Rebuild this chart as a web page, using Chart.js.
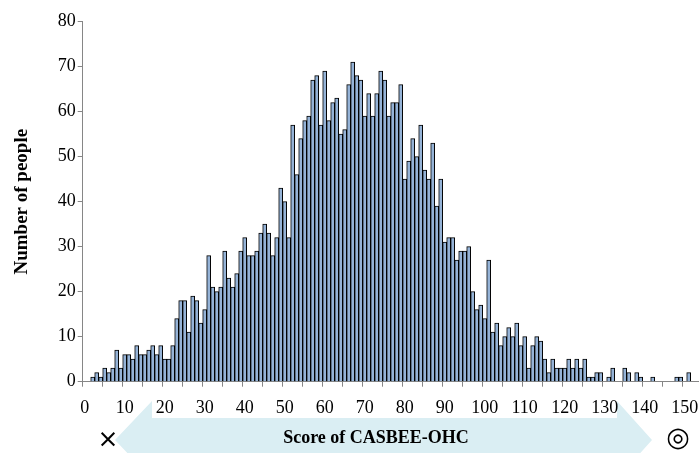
<!DOCTYPE html>
<html>
<head>
<meta charset="utf-8">
<script src="https://cdn.jsdelivr.net/npm/chart.js@4.4.1/dist/chart.umd.min.js"></script>
<style>
  html, body { margin: 0; padding: 0; background: #fff; }
  #wrap { width: 700px; height: 453px; }
</style>
</head>
<body>
<div id="wrap"><canvas id="chart" width="700" height="453"></canvas></div>
<script>
  // score categories (one bar per score point)
  const scores = [
    0, 1, 2, 3, 4, 5, 6, 7, 8, 9,
    10, 11, 12, 13, 14, 15, 16, 17, 18, 19,
    20, 21, 22, 23, 24, 25, 26, 27, 28, 29,
    30, 31, 32, 33, 34, 35, 36, 37, 38, 39,
    40, 41, 42, 43, 44, 45, 46, 47, 48, 49,
    50, 51, 52, 53, 54, 55, 56, 57, 58, 59,
    60, 61, 62, 63, 64, 65, 66, 67, 68, 69,
    70, 71, 72, 73, 74, 75, 76, 77, 78, 79,
    80, 81, 82, 83, 84, 85, 86, 87, 88, 89,
    90, 91, 92, 93, 94, 95, 96, 97, 98, 99,
    100, 101, 102, 103, 104, 105, 106, 107, 108, 109,
    110, 111, 112, 113, 114, 115, 116, 117, 118, 119,
    120, 121, 122, 123, 124, 125, 126, 127, 128, 129,
    130, 131, 132, 133, 134, 135, 136, 137, 138, 139,
    140, 141, 142, 143, 144, 145, 146, 147, 148, 149,
    150, 151, 152, 153
  ];

  // number of people at each score
  const people = [
    0, 0, 1, 2, 1, 3, 2, 3, 7, 3,
    6, 6, 5, 8, 6, 6, 7, 8, 6, 8,
    5, 5, 8, 14, 18, 18, 11, 19, 18, 13,
    16, 28, 21, 20, 21, 29, 23, 21, 24, 29,
    32, 28, 28, 29, 33, 35, 33, 28, 32, 43,
    40, 32, 57, 46, 54, 58, 59, 67, 68, 57,
    69, 58, 62, 63, 55, 56, 66, 71, 68, 67,
    59, 64, 59, 64, 69, 67, 59, 62, 62, 66,
    45, 49, 54, 50, 57, 47, 45, 53, 39, 45,
    31, 32, 32, 27, 29, 29, 30, 20, 16, 17,
    14, 27, 11, 13, 8, 10, 12, 10, 13, 8,
    10, 3, 8, 10, 9, 5, 2, 5, 3, 3,
    3, 5, 3, 5, 3, 5, 1, 1, 2, 2,
    0, 1, 3, 0, 0, 3, 2, 0, 2, 1,
    0, 0, 1, 0, 0, 0, 0, 0, 1, 1,
    0, 2, 0, 0
  ];

  const xTickLabels = [0, 10, 20, 30, 40, 50, 60, 70, 80, 90, 100, 110, 120, 130, 140, 150];
  const xTickEvery = 5; // tick marks every 5 categories
  const yMax = 80;
  const yStep = 10;

  const yTitle = "Number of people";
  const xTitle = "Score of CASBEE-OHC";
  const lowMark = "\u00D7";
  const highMark = "\u25CE";

  const serif = "'Times New Roman', 'Liberation Serif', serif";
  const axisGray = "#868686";

  // tick marks sit on category boundaries (score - 0.5)
  const tickMarks = [];
  for (let s = 0; s <= xTickLabels[xTickLabels.length - 1]; s += xTickEvery) tickMarks.push(s - 0.5);

  const arrowPlugin = {
    id: "scoreArrow",
    beforeDraw(chart) {
      const ctx = chart.ctx;
      ctx.save();
      ctx.fillStyle = "#daeef3";
      ctx.beginPath();
      ctx.moveTo(115, 440);
      ctx.lineTo(152, 401);
      ctx.lineTo(152, 418);
      ctx.lineTo(617, 418);
      ctx.lineTo(617, 401);
      ctx.lineTo(652, 440);
      ctx.lineTo(617, 479);
      ctx.lineTo(617, 462);
      ctx.lineTo(152, 462);
      ctx.lineTo(152, 479);
      ctx.closePath();
      ctx.fill();
      ctx.restore();
    },
    afterDraw(chart) {
      const ctx = chart.ctx;
      ctx.save();
      ctx.fillStyle = "#000";
      ctx.textAlign = "center";
      ctx.textBaseline = "middle";
      ctx.font = "bold 18px " + serif;
      ctx.fillText(xTitle, 376, 438);
      ctx.font = "25px 'DejaVu Sans', sans-serif";
      ctx.fillText(lowMark, 108, 440);
      ctx.font = "27px 'DejaVu Sans', sans-serif";
      ctx.fillText(highMark, 678, 439);
      ctx.restore();
    }
  };

  new Chart(document.getElementById("chart").getContext("2d"), {
    type: "bar",
    data: {
      labels: scores,
      datasets: [{
        data: people,
        backgroundColor: "#95b3d7",
        borderColor: "#000",
        borderWidth: 1,
        barPercentage: 1,
        categoryPercentage: 1
      }]
    },
    options: {
      responsive: false,
      animation: false,
      devicePixelRatio: 1,
      layout: { padding: { left: 0, right: 1.3, top: 21.7, bottom: 0 } },
      plugins: { legend: { display: false }, tooltip: { enabled: false } },
      scales: {
        x: {
          type: "linear",
          offset: false,
          min: scores[0] - 0.5,
          max: scores[scores.length - 1] + 0.5,
          afterBuildTicks: (axis) => { axis.ticks = tickMarks.map((v) => ({ value: v })); },
          afterFit: (axis) => {
            axis.height = 71.3;
            axis.paddingLeft = 0;
            axis.paddingRight = 0;
          },
          ticks: {
            autoSkip: false,
            maxRotation: 0,
            labelOffset: 2,
            padding: 11,
            color: "#000",
            font: { family: serif, size: 18 },
            callback: (v) => {
              const s = Math.round(v + 0.5);
              return xTickLabels.includes(s) ? String(s) : "";
            }
          },
          grid: { drawOnChartArea: false, drawTicks: true, tickLength: 5, color: axisGray, offset: false },
          border: { color: axisGray, width: 1 }
        },
        y: {
          min: 0,
          max: yMax,
          afterFit: (axis) => { axis.width = 82.7; },
          ticks: {
            stepSize: yStep,
            padding: 2,
            color: "#000",
            font: { family: serif, size: 18 }
          },
          grid: { drawOnChartArea: false, drawTicks: true, tickLength: 5, color: axisGray },
          border: { color: axisGray, width: 1 },
          title: {
            display: true,
            text: yTitle,
            color: "#000",
            font: { family: serif, size: 19, weight: "bold" },
            padding: { top: 11, bottom: 0 }
          }
        }
      }
    },
    plugins: [arrowPlugin]
  });
</script>
</body>
</html>
